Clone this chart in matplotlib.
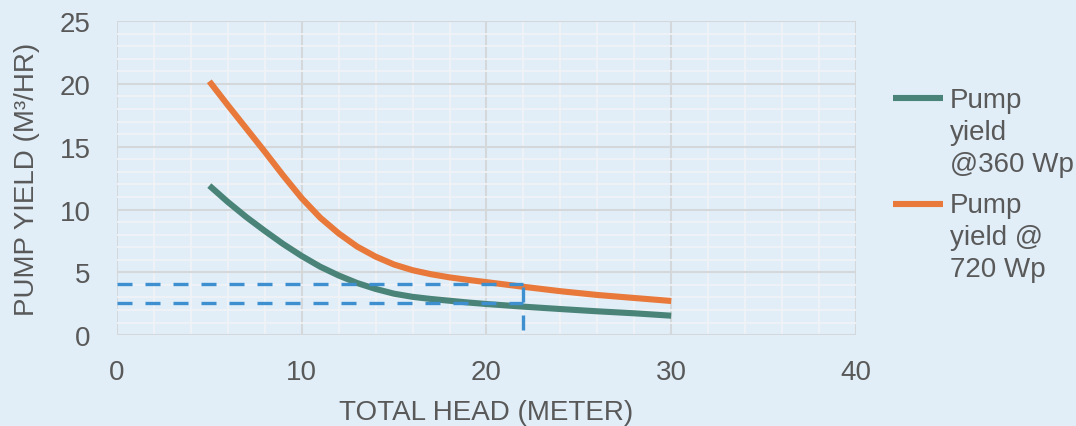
import matplotlib
matplotlib.use("Agg")
import matplotlib.pyplot as plt
from matplotlib.ticker import MultipleLocator
from matplotlib.legend_handler import HandlerLine2D

# head (m) vs pump yield (m3/hr)
head = [5, 6, 7, 8, 9, 10, 11, 12, 13, 14, 15, 16, 17, 18, 19, 20, 22, 24, 26, 28, 30]
yield_360 = [11.9, 10.6, 9.4, 8.3, 7.25, 6.3, 5.45, 4.75, 4.15, 3.68, 3.3, 3.05, 2.88, 2.74, 2.6,
             2.48, 2.27, 2.08, 1.9, 1.74, 1.55]
yield_720 = [20.2, 18.3, 16.45, 14.6, 12.7, 10.9, 9.35, 8.1, 7.05, 6.25, 5.62, 5.17, 4.85, 4.6, 4.4,
             4.22, 3.85, 3.5, 3.2, 2.96, 2.72]
labels = ["Pump\nyield\n@360 Wp", "Pump\nyield @\n720 Wp"]

# read-off guide lines
guide_head = 22
guide_low = 2.6
guide_high = 4.07
guide_top = 3.8

bg = "#e1eef8"
txt = "#595959"
plt.rcParams["font.family"] = ["Liberation Sans", "DejaVu Sans"]


class TopLine(HandlerLine2D):
    # put the legend line next to the first line of a wrapped label
    def create_artists(self, legend, orig_handle, xdescent, ydescent, width, height, fontsize, trans):
        return super().create_artists(legend, orig_handle, xdescent, ydescent - 48,
                                      width, height, fontsize, trans)


fig = plt.figure(figsize=(10.76, 4.27), dpi=100, facecolor=bg)
ax = fig.add_axes([0.1087, 0.2127, 0.6868, 0.7358], facecolor=bg)

l1, = ax.plot(head, yield_360, color="#4a8478", lw=4.4, label=labels[0], solid_capstyle="butt", zorder=3)
l2, = ax.plot(head, yield_720, color="#e8793a", lw=4.4, label=labels[1], solid_capstyle="butt", zorder=3)

dash = dict(color="#3d8fd0", lw=2.4, dashes=(4.5, 3.9), zorder=4)
ax.plot([0, guide_head], [guide_high, guide_high], **dash)
ax.plot([0, guide_head], [guide_low, guide_low], **dash)
ax.plot([guide_head, guide_head], [guide_top, 0], **dash)

ax.set_xlim(0, 40)
ax.set_ylim(0, 25)
ax.xaxis.set_major_locator(MultipleLocator(10))
ax.xaxis.set_minor_locator(MultipleLocator(2))
ax.yaxis.set_major_locator(MultipleLocator(5))
ax.yaxis.set_minor_locator(MultipleLocator(1))
ax.grid(which="minor", color="#f1f4f6", lw=1.2, zorder=1)
ax.grid(which="major", color="#d4d8db", lw=1.5, zorder=2)
ax.set_axisbelow(True)
for s in ax.spines.values():
    s.set_visible(False)
ax.tick_params(which="both", length=0, labelsize=20, labelcolor=txt)
ax.tick_params(axis="x", pad=17)
ax.tick_params(axis="y", pad=19)

ax.set_xlabel("TOTAL HEAD (METER)", fontsize=20, color=txt, labelpad=10)
ax.set_ylabel("PUMP YIELD (M³/HR)", fontsize=20, color=txt, labelpad=14)

leg = fig.legend(handles=[l1, l2], loc="upper left", bbox_to_anchor=(0.83, 0.795), frameon=False,
                 fontsize=20, labelcolor=txt, handlelength=1.8, handletextpad=0.25,
                 labelspacing=0.56, borderpad=0, borderaxespad=0,
                 handler_map={l1: TopLine(), l2: TopLine()})
for t in leg.get_texts():
    t.set_linespacing(1.3)

fig.savefig("out.png", dpi=100, facecolor=bg)
